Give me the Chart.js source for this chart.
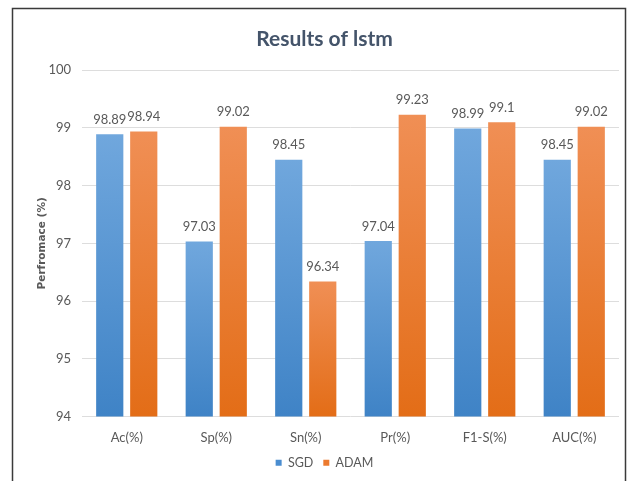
<!DOCTYPE html>
<html>
<head>
<meta charset="utf-8">
<script src="https://cdn.jsdelivr.net/npm/chart.js@4/dist/chart.umd.min.js"></script>
<style>
  html, body { margin: 0; padding: 0; background: #fff; }
  #wrap { width: 630px; height: 481px; position: relative; }
</style>
</head>
<body>
<div id="wrap"><canvas id="c" width="630" height="481"></canvas></div>
<script>
// Metrics per optimiser
const categories = ['Ac(%)', 'Sp(%)', 'Sn(%)', 'Pr(%)', 'F1-S(%)', 'AUC(%)'];
const sgdValues  = [98.89, 97.03, 98.45, 97.04, 98.99, 98.45];
const adamValues = [98.94, 99.02, 96.34, 99.23, 99.1, 99.02];
const seriesNames = ['SGD', 'ADAM'];
const yTicks = [94, 95, 96, 97, 98, 99, 100];

const FONT = 'Lato, "Open Sans", sans-serif';
const TEXT = '#595959';

// Vertical gradient running from the bar top down to the axis base
function barGradient(top, bottom) {
  return (ctx) => {
    const chart = ctx.chart;
    const area = chart.chartArea;
    if (!area || ctx.parsed === undefined) return bottom;
    const y = chart.scales.y.getPixelForValue(ctx.parsed.y);
    const g = chart.ctx.createLinearGradient(0, y, 0, area.bottom);
    g.addColorStop(0, top);
    g.addColorStop(1, bottom);
    return g;
  };
}

// Frame around the figure
const framePlugin = {
  id: 'frame',
  beforeDraw(chart) {
    const c = chart.ctx;
    c.save();
    c.fillStyle = '#fff';
    c.fillRect(0, 0, chart.width, chart.height);
    c.strokeStyle = '#3a3a3a';
    c.lineWidth = 1.5;
    c.beginPath();
    c.moveTo(12.5, chart.height);
    c.lineTo(12.5, 8.5);
    c.lineTo(625.5, 8.5);
    c.lineTo(625.5, chart.height);
    c.stroke();
    c.restore();
  }
};

// Rotated value-axis title
const yTitlePlugin = {
  id: 'yTitle',
  afterDraw(chart) {
    const c = chart.ctx;
    const area = chart.chartArea;
    c.save();
    c.translate(42, (area.top + area.bottom) / 2);
    c.rotate(-Math.PI / 2);
    c.font = 'bold 10.5px "DejaVu Sans", sans-serif';
    c.fillStyle = TEXT;
    c.textAlign = 'center';
    c.textBaseline = 'middle';
    c.fillText('Perfromace (%)', 0, 0);
    c.restore();
  }
};

// Value printed above each bar
const valueLabelPlugin = {
  id: 'valueLabels',
  afterDatasetsDraw(chart) {
    const c = chart.ctx;
    c.save();
    c.font = '13px ' + FONT;
    c.fillStyle = TEXT;
    c.textAlign = 'center';
    c.textBaseline = 'bottom';
    chart.data.datasets.forEach((ds, di) => {
      chart.getDatasetMeta(di).data.forEach((bar, i) => {
        c.fillText(String(ds.data[i]), bar.x, bar.y - 8);
      });
    });
    c.restore();
  }
};

new Chart(document.getElementById('c'), {
  type: 'bar',
  data: {
    labels: categories,
    datasets: [
      {
        label: seriesNames[0],
        data: sgdValues,
        backgroundColor: barGradient('#70A7DD', '#3F83C6'),
        borderWidth: 0,
        barPercentage: 0.8,
        categoryPercentage: 0.76
      },
      {
        label: seriesNames[1],
        data: adamValues,
        backgroundColor: barGradient('#F08F55', '#E36D17'),
        borderWidth: 0,
        barPercentage: 0.8,
        categoryPercentage: 0.76
      }
    ]
  },
  plugins: [framePlugin, yTitlePlugin, valueLabelPlugin],
  options: {
    responsive: false,
    animation: false,
    devicePixelRatio: 1,
    layout: { padding: { left: 30, right: 11, top: 0, bottom: 2 } },
    plugins: {
      title: {
        display: true,
        text: 'Results of lstm',
        color: '#44546A',
        font: { family: FONT, size: 21, weight: 'bold' },
        padding: { top: 27, bottom: 18 }
      },
      legend: {
        position: 'bottom',
        labels: {
          color: TEXT,
          font: { family: FONT, size: 12.5 },
          boxWidth: 6,
          boxHeight: 6,
          padding: 10,
          generateLabels(chart) {
            const cols = ['#4A8DD0', '#EC7A2E'];
            return seriesNames.map((n, i) => ({
              text: n, fillStyle: cols[i], strokeStyle: cols[i], lineWidth: 0,
              datasetIndex: i, hidden: false, fontColor: TEXT
            }));
          }
        }
      },
      tooltip: { enabled: false }
    },
    scales: {
      x: {
        grid: { display: false },
        border: { display: false },
        ticks: { color: TEXT, font: { family: FONT, size: 13 }, padding: 6 },
        afterFit(s) { s.height = 30; }
      },
      y: {
        min: yTicks[0],
        max: yTicks[yTicks.length - 1],
        afterBuildTicks(s) { s.ticks = yTicks.map(v => ({ value: v })); },
        grid: { color: '#DDDDDD', drawTicks: false, lineWidth: 1 },
        border: { display: false },
        ticks: { color: TEXT, font: { family: FONT, size: 13 }, padding: 11 },
        afterFit(s) { s.width = 52; }
      }
    }
  }
});
</script>
</body>
</html>
